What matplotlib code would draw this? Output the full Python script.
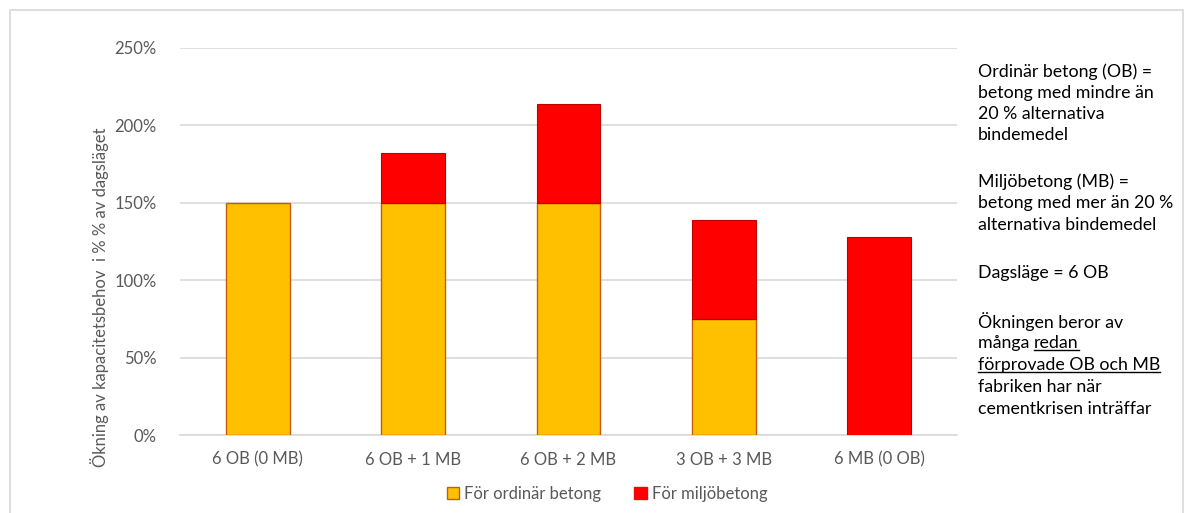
import matplotlib.pyplot as plt
from matplotlib.patches import Patch, Rectangle
from matplotlib.ticker import FuncFormatter

categories = ["6 OB (0 MB)", "6 OB + 1 MB", "6 OB + 2 MB", "3 OB + 3 MB", "6 MB (0 OB)"]
ordinar = [150, 150, 150, 75, 0]
miljo = [0, 32, 64, 64, 128]

notes = [
    ("Ordinär betong (OB) =", False),
    ("betong med mindre än", False),
    ("20 % alternativa", False),
    ("bindemedel", False),
    ("Miljöbetong (MB) =", False),
    ("betong med mer än 20 %", False),
    ("alternativa bindemedel", False),
    ("Dagsläge = 6 OB", False),
    ("Ökningen beror av", False),
    ("många |redan", True),
    ("förprovade OB och MB", True),
    ("fabriken har när", False),
    ("cementkrisen inträffar", False),
]
note_y = [72, 93, 114, 135, 182, 203, 225, 273, 322, 343, 365, 387, 409]

W, H = 1185, 513
plt.rcParams['font.family'] = ['Lato', 'DejaVu Sans']
fig = plt.figure(figsize=(W / 100, H / 100), dpi=100)
ax = fig.add_axes([180 / W, 1 - 435 / H, (957 - 180) / W, (435 - 48) / H])

grey = "#595959"
grid = "#D9D9D9"
x = range(len(categories))
# no outline on empty segments
ob_edges = ["#C55A11" if v > 0 else "none" for v in ordinar]
mb_edges = ["#C00000" if v > 0 else "none" for v in miljo]
ax.bar(x, ordinar, width=0.41, color="#FFC000", edgecolor=ob_edges, linewidth=1, zorder=3)
ax.bar(x, miljo, bottom=ordinar, width=0.41, color="#FF0000", edgecolor=mb_edges,
       linewidth=0.8, zorder=3)

ax.set_xlim(-0.5, len(categories) - 0.5)
ax.set_ylim(0, 250)
ax.set_yticks(range(0, 251, 50))
ax.yaxis.set_major_formatter(FuncFormatter(lambda v, p: f"{int(v)}%"))
ax.set_xticks(list(x))
ax.set_xticklabels(categories)
ax.tick_params(length=0, labelsize=12, labelcolor=grey)
ax.tick_params(axis='y', pad=17)
ax.tick_params(axis='x', pad=12)
ax.grid(axis='y', color=grid, linewidth=1.2, zorder=0)
for s in ["top", "right", "left"]:
    ax.spines[s].set_visible(False)
ax.spines["bottom"].set_color(grid)
ax.spines["bottom"].set_linewidth(1.2)

ax.set_ylabel("Ökning av kapacitetsbehov  i % % av dagsläget", fontsize=12, color=grey)
ax.yaxis.set_label_coords(-0.092, 0.355)

handles = [Patch(facecolor="#FFC000", edgecolor="#C55A11", label="För ordinär betong"),
           Patch(facecolor="#FF0000", edgecolor="#FF0000", label="För miljöbetong")]
fig.legend(handles=handles, loc="center", bbox_to_anchor=(607 / W, 1 - 494 / H), ncol=2,
           frameon=False, fontsize=12, labelcolor=grey, handlelength=0.75, handleheight=0.75,
           handletextpad=0.3, columnspacing=2.0)

# notes to the right of the chart, some words underlined
fig.canvas.draw()
renderer = fig.canvas.get_renderer()
for (line, underline), yy in zip(notes, note_y):
    xf = 978 / W
    yf = 1 - yy / H
    if "|" in line:
        plain, under = line.split("|")
        t = fig.text(xf, yf, plain, fontsize=12.8, va="center", ha="left", color="black")
        bb = t.get_window_extent(renderer)
        t2 = fig.text(bb.x1 / W, yf, under, fontsize=12.8, va="center", ha="left", color="black")
        bb2 = t2.get_window_extent(renderer)
    else:
        t2 = fig.text(xf, yf, line, fontsize=12.8, va="center", ha="left", color="black")
        bb2 = t2.get_window_extent(renderer)
    if underline:
        uy = bb2.y0 + 1
        fig.add_artist(plt.Line2D([bb2.x0 / W, bb2.x1 / W], [uy / H, uy / H],
                                  color="black", linewidth=1))

# thin frame round the whole chart
fig.add_artist(Rectangle((10 / W, -0.1), (W - 12) / W, 1.1 - 10 / H, transform=fig.transFigure,
                         fill=False, edgecolor=grid, linewidth=1.2))

fig.savefig("out.png", dpi=100)
